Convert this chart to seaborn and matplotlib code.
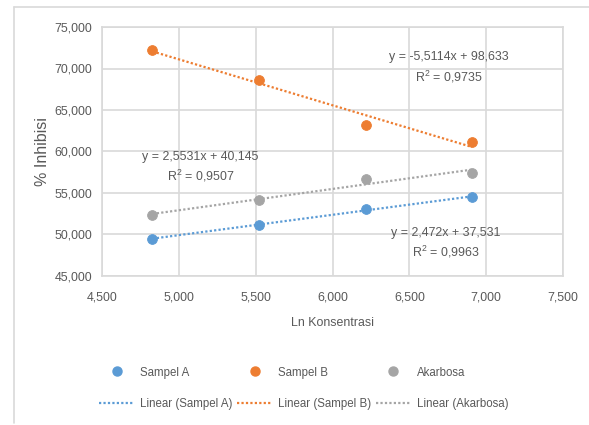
import numpy as np
import matplotlib
matplotlib.use("Agg")
import matplotlib.pyplot as plt
import seaborn as sns
from matplotlib.ticker import FuncFormatter, MultipleLocator
from matplotlib.lines import Line2D


# data
ln_konsentrasi = [4.828, 5.521, 6.215, 6.908]
sampel_a = [49.5, 51.1, 53.1, 54.5]
sampel_b = [72.2, 68.6, 63.2, 61.2]
akarbosa = [52.3, 54.2, 56.7, 57.4]

series_names = ["Sampel A", "Sampel B", "Akarbosa"]
series_colors = ["#5b9bd5", "#ed7d31", "#a5a5a5"]

# trendline labels as printed on the chart: (equation, r2, x, y_eq, y_r2)
eq_labels = {
    "Sampel A": ("y = 2,472x + 37,531", "R$^2$ = 0,9963", 6.74, 50.18, 47.89),
    "Sampel B": ("y = -5,5114x + 98,633", "R$^2$ = 0,9735", 6.76, 71.39, 68.98),
    "Akarbosa": ("y = 2,5531x + 40,145", "R$^2$ = 0,9507", 5.14, 59.34, 57.05),
}

sns.set_style("white")
plt.rcParams["font.family"] = ["Liberation Sans", "DejaVu Sans"]
plt.rcParams["mathtext.fontset"] = "custom"
plt.rcParams["mathtext.rm"] = "Liberation Sans"

text_col = "#595959"
grid_col = "#d9d9d9"
fs = 8.9


def dec_comma(v, pos):
    return f"{v:.3f}".replace(".", ",")


def main():
    fig = plt.figure(figsize=(5.89, 4.25), dpi=100)
    ax = fig.add_axes([102 / 589, 1 - 276 / 425, 461 / 589, 249 / 425])

    handles = []
    for name, ys, col in zip(series_names, [sampel_a, sampel_b, akarbosa], series_colors):
        sns.scatterplot(x=ln_konsentrasi, y=ys, color=col, edgecolor=col, s=50, ax=ax, zorder=4)
        sns.regplot(x=ln_konsentrasi, y=ys, scatter=False, ci=None, ax=ax,
                    line_kws=dict(color=col, lw=1.6, ls=(0, (1, 1)), zorder=3))
        handles.append(Line2D([], [], marker="o", ls="", color=col, markersize=6.5, label=name))
        handles.append(Line2D([], [], color=col, lw=1.6, ls=(0, (1, 1)), label=f"Linear ({name})"))
        eq, r2, tx, ty1, ty2 = eq_labels[name]
        ax.text(tx, ty1, eq, ha="center", va="center", fontsize=fs, color=text_col, zorder=5)
        ax.text(tx, ty2, r2, ha="center", va="center", fontsize=fs, color=text_col, zorder=5)

    ax.set_xlim(4.5, 7.5)
    ax.set_ylim(45, 75)
    ax.xaxis.set_major_locator(MultipleLocator(0.5))
    ax.yaxis.set_major_locator(MultipleLocator(5))
    ax.xaxis.set_major_formatter(FuncFormatter(dec_comma))
    ax.yaxis.set_major_formatter(FuncFormatter(dec_comma))
    ax.grid(True, color=grid_col, lw=1.2)
    ax.set_axisbelow(True)
    for sp in ax.spines.values():
        sp.set_color(grid_col)
        sp.set_linewidth(1.2)
    ax.tick_params(length=0, labelsize=fs, colors=text_col)
    ax.tick_params(axis="x", pad=11)
    ax.tick_params(axis="y", pad=7)

    ax.set_xlabel("Ln Konsentrasi", fontsize=fs, color=text_col, labelpad=10)
    ax.set_ylabel("% Inhibisi", fontsize=11.5, color=text_col, labelpad=3)

    fig.legend(handles=handles, ncol=3, loc="center", bbox_to_anchor=(0.516, 0.087),
               frameon=False, fontsize=8.3, labelcolor=text_col, handlelength=3.0,
               handletextpad=0.55, columnspacing=0.4, labelspacing=1.65)

    # outer chart-area border (top and left edges visible)
    fig.add_artist(Line2D([14 / 589, 1.0], [1 - 7 / 425, 1 - 7 / 425], color=grid_col,
                          lw=1.2, transform=fig.transFigure))
    fig.add_artist(Line2D([14 / 589, 14 / 589], [1 - 7 / 425, 1 - 423 / 425], color=grid_col,
                          lw=1.2, transform=fig.transFigure))

    fig.savefig("out.png", dpi=100)


if __name__ == "__main__":
    main()
